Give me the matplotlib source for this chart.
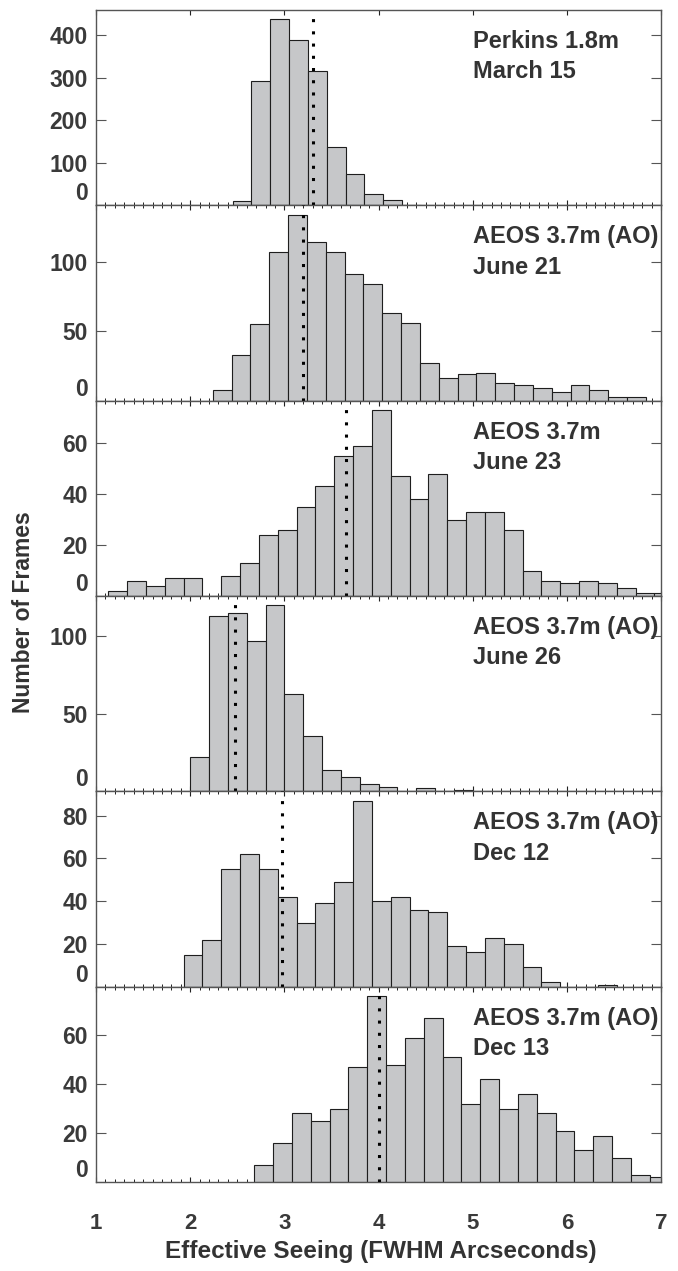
import matplotlib
matplotlib.use("Agg")
import matplotlib.pyplot as plt
from matplotlib.ticker import MultipleLocator

plt.rcParams['font.family'] = ['Liberation Sans', 'DejaVu Sans']
plt.rcParams['font.weight'] = 'bold'

BIN_WIDTH = 0.2

# one entry per panel, top to bottom
telescopes = ['Perkins 1.8m', 'AEOS 3.7m (AO)', 'AEOS 3.7m', 'AEOS 3.7m (AO)',
              'AEOS 3.7m (AO)', 'AEOS 3.7m (AO)']
dates = ['March 15', 'June 21', 'June 23', 'June 26', 'Dec 12', 'Dec 13']

# left edge of the first bin in each panel
bin_starts = [2.45, 2.24, 1.13, 2.00, 1.93, 2.68]

counts_mar15 = [10, 292, 437, 388, 315, 138, 74, 27, 13, 2]
counts_jun21 = [8, 33, 55, 107, 134, 114, 107, 91, 84, 63, 56, 27, 16, 19, 20,
                13, 11, 9, 6, 11, 8, 3, 3]
counts_jun23 = [2, 6, 4, 7, 7, 0, 8, 13, 24, 26, 35, 43, 55, 59, 73, 47, 38, 48,
                30, 33, 33, 26, 10, 6, 5, 6, 5, 3, 1, 1]
counts_jun26 = [22, 113, 115, 97, 120, 63, 36, 14, 9, 5, 3, 0, 2, 0, 1]
counts_dec12 = [15, 22, 55, 62, 55, 42, 30, 39, 49, 87, 40, 42, 36, 35, 19, 16,
                23, 20, 9, 2, 0, 0, 1]
counts_dec13 = [7, 16, 28, 25, 30, 47, 76, 48, 59, 67, 51, 32, 42, 30, 36, 28,
                21, 13, 19, 10, 3, 2]
all_counts = [counts_mar15, counts_jun21, counts_jun23, counts_jun26,
              counts_dec12, counts_dec13]

# median seeing (dotted line)
medians = [3.30, 3.20, 3.655, 2.48, 2.98, 4.01]

y_ticks = [[0, 100, 200, 300, 400], [0, 50, 100], [0, 20, 40, 60],
           [0, 50, 100], [0, 20, 40, 60, 80], [0, 20, 40, 60]]
x_ticks = [1, 2, 3, 4, 5, 6, 7]

TEXT = '#333333'
SPINE = '#555555'

fig, axes = plt.subplots(6, 1, figsize=(6.78, 12.71), dpi=100, sharex=True)
fig.subplots_adjust(left=0.1416, right=0.975, top=0.9921, bottom=0.0700,
                    hspace=0)

for i, ax in enumerate(axes):
    counts = all_counts[i]
    lefts = [bin_starts[i] + BIN_WIDTH * k for k in range(len(counts))]
    ax.bar(lefts, counts, width=BIN_WIDTH, align='edge', color='#c6c7c9',
           edgecolor='#1e1e1e', linewidth=0.8, zorder=2)
    ax.axvline(medians[i], color='black', linewidth=2.2,
               linestyle=(0, (1, 3)), zorder=3)

    ax.set_xlim(1, 7)
    ax.set_ylim(0, max(counts) * 1.05)
    ax.set_yticks(y_ticks[i])
    ax.set_xticks(x_ticks)
    ax.xaxis.set_minor_locator(MultipleLocator(0.1))

    ax.tick_params(axis='y', which='major', direction='in', length=7,
                   width=0.8, color=SPINE, left=True, right=True,
                   labelsize=16.5, labelcolor='#3a3a3a', pad=6)
    ax.tick_params(axis='x', which='major', direction='in', length=3.5,
                   width=0.8, color='#222222', top=True, bottom=True)
    ax.tick_params(axis='x', which='minor', direction='in', length=2,
                   width=0.7, color='#222222', top=(i > 0), bottom=True)
    ax.tick_params(axis='x', labelbottom=(i == 5), labelsize=16,
                   labelcolor='#3a3a3a', pad=22)
    for lbl in ax.get_yticklabels():
        lbl.set_fontweight('bold')
    ax.get_yticklabels()[0].set_verticalalignment('bottom')
    for lbl in ax.get_xticklabels():
        lbl.set_fontweight('bold')

    for sp in ax.spines.values():
        sp.set_color(SPINE)
        sp.set_linewidth(1.0)

    ax.text(0.667, 0.805, telescopes[i], transform=ax.transAxes, fontsize=17,
            fontweight='bold', color=TEXT, va='baseline', ha='left')
    ax.text(0.667, 0.651, dates[i], transform=ax.transAxes, fontsize=17,
            fontweight='bold', color=TEXT, va='baseline', ha='left')

fig.text(0.562, 0.015, 'Effective Seeing (FWHM Arcseconds)', fontsize=17.5,
         fontweight='bold', color=TEXT, ha='center', va='center')
fig.text(0.034, 0.518, 'Number of Frames', fontsize=16.5, fontweight='bold',
         color=TEXT, ha='center', va='center', rotation=90)

fig.savefig('out.png', dpi=100)
